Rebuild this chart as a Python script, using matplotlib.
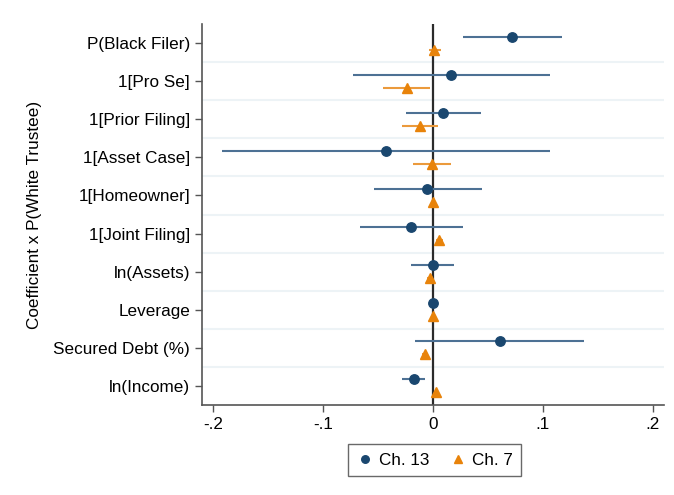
import numpy as np
import matplotlib.pyplot as plt

plt.rcParams['font.family'] = ['Liberation Sans', 'DejaVu Sans']

# Переменные (сверху вниз)
labels = ['P(Black Filer)', '1[Pro Se]', '1[Prior Filing]', '1[Asset Case]',
          '1[Homeowner]', '1[Joint Filing]', 'ln(Assets)', 'Leverage',
          'Secured Debt (%)', 'ln(Income)']

# Ch. 13: оценки и доверительные интервалы
ch13_coef = [0.072, 0.016, 0.0094, -0.043, -0.005, -0.020, 0.000, 0.000, 0.0606, -0.0176]
ch13_lo = [0.0276, -0.073, -0.0245, -0.192, -0.054, -0.066, -0.020, -0.001, -0.0164, -0.028]
ch13_hi = [0.117, 0.106, 0.044, 0.106, 0.0445, 0.027, 0.019, 0.001, 0.1376, -0.0073]

# Ch. 7: оценки и доверительные интервалы
ch7_coef = [0.001, -0.024, -0.0118, -0.001, 0.000, 0.0058, -0.003, 0.000, -0.0073, 0.0025]
ch7_lo = [-0.004, -0.045, -0.0285, -0.018, -0.002, 0.003, -0.005, -0.001, -0.010, 0.001]
ch7_hi = [0.007, -0.003, 0.005, 0.016, 0.002, 0.009, -0.001, 0.001, -0.005, 0.004]

xticks = [-0.2, -0.1, 0, 0.1, 0.2]
xtick_labels = ['-.2', '-.1', '0', '.1', '.2']

navy = '#1a476f'
navy_ci = '#4d7194'
orange = '#e8830a'
orange_ci = '#eb9a3c'

fig = plt.figure(figsize=(6.74, 4.95), dpi=100)
ax = fig.add_axes([0.2997, 0.1818, 0.6853, 0.7697])

y = np.arange(len(labels))
off = 0.17

# разделительные линии между переменными
for g in y[:-1] + 0.5:
    ax.axhline(g, color='#edf3f6', linewidth=1.5, zorder=0)

ax.axvline(0, color='#2b2b2b', linewidth=1.6, zorder=2)

ax.hlines(y - off, ch13_lo, ch13_hi, color=navy_ci, linewidth=1.5, zorder=3)
ax.plot(ch13_coef, y - off, 'o', color=navy, markersize=6.8, zorder=4, label='Ch. 13')

ax.hlines(y + off, ch7_lo, ch7_hi, color=orange_ci, linewidth=1.5, zorder=3)
ax.plot(ch7_coef, y + off, '^', color=orange, markersize=7.5, zorder=4, label='Ch. 7')

ax.set_xlim(-0.21, 0.21)
ax.set_ylim(len(labels) - 0.5, -0.5)
ax.set_yticks(y)
ax.set_yticklabels(labels, fontsize=12.3)
ax.set_xticks(xticks)
ax.set_xticklabels(xtick_labels, fontsize=12.3)
ax.set_ylabel('Coefficient x P(White Trustee)', fontsize=12.3, labelpad=8)

for side in ['top', 'right']:
    ax.spines[side].set_visible(False)
for side in ['left', 'bottom']:
    ax.spines[side].set_color('#555555')
    ax.spines[side].set_linewidth(1.2)
ax.tick_params(axis='both', direction='out', length=5, width=1, color='#555555')

fig.legend(loc='center', bbox_to_anchor=(0.645, 0.07), ncol=2, fontsize=12.3,
           frameon=True, fancybox=False, edgecolor='#444444', handletextpad=0.3,
           columnspacing=1.2, handlelength=1.0, borderpad=0.5, markerscale=0.8)

fig.savefig('out.png', dpi=100)
